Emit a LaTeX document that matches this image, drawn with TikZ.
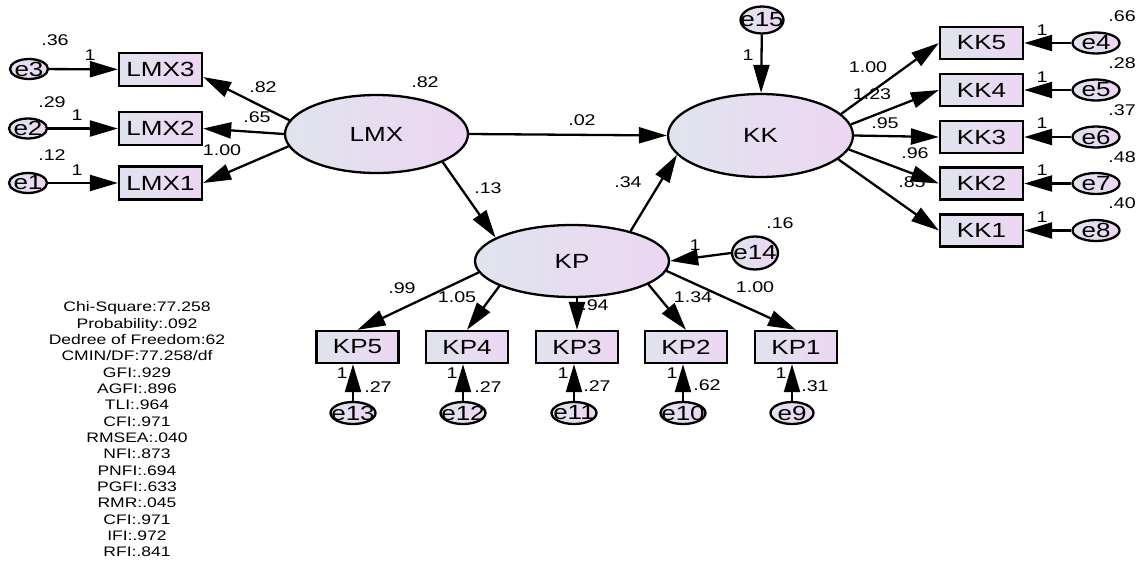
\documentclass[tikz,border=0pt]{standalone}
\usepackage{fontspec}
\setmainfont{Liberation Sans}[FakeStretch=1.27]
\usetikzlibrary{arrows.meta,shapes.geometric}
\definecolor{fillL}{RGB}{224,228,238}
\definecolor{fillR}{RGB}{236,214,242}
\tikzset{
 obs/.style={draw, line width=2.3pt, rectangle, left color=fillL, right color=fillR,
   minimum width=83pt, minimum height=33pt, inner sep=0pt, font=\fontsize{20.5}{24}\selectfont},
 lat/.style={draw, line width=2.3pt, ellipse, left color=fillL, right color=fillR,
   inner sep=0pt, font=\fontsize{20.5}{24}\selectfont},
 err/.style={draw, line width=2.3pt, ellipse, left color=fillL, right color=fillR, inner sep=0pt},
 elab/.style={font=\fontsize{20.5}{22}\selectfont, inner sep=0pt},
 num/.style={font=\fontsize{15.5}{18}\selectfont, inner sep=0pt},
 arr/.style={line width=2.3pt, -{Triangle[length=28pt,width=16pt]}},
}
\begin{document}
\begin{tikzpicture}[x=1pt,y=-1pt]
\useasboundingbox (0,0) rectangle (1142,560);
% latent variables
\node[lat, minimum width=183pt, minimum height=78pt] (LMX) at (376.5,134) {LMX};
\node[lat, minimum width=185pt, minimum height=83pt] (KK) at (760.5,135.5) {KK};
\node[lat, minimum width=194pt, minimum height=72pt] (KP) at (572,261) {KP};
% LMX indicators
\node[obs] (LMX3) at (160.5,69.5) {LMX3};
\node[obs] (LMX2) at (160.5,128.5) {LMX2};
\node[obs] (LMX1) at (160.5,183) {LMX1};
\node[err, minimum width=38pt, minimum height=20pt, label={[elab]center:e3}] (e3) at (29,69) {};
\node[err, minimum width=38pt, minimum height=20pt, label={[elab]center:e2}] (e2) at (28,128.5) {};
\node[err, minimum width=38pt, minimum height=20pt, label={[elab]center:e1}] (e1) at (28,183) {};
% KK indicators
\node[obs, minimum height=32pt] (KK5) at (981.5,43) {KK5};
\node[obs, minimum height=32pt] (KK4) at (981.5,90) {KK4};
\node[obs, minimum height=32pt] (KK3) at (981.5,137) {KK3};
\node[obs, minimum height=32pt] (KK2) at (981.5,183.5) {KK2};
\node[obs, minimum height=32pt] (KK1) at (981.5,230.5) {KK1};
\node[err, minimum width=47pt, minimum height=21pt, label={[elab]center:e4}] (e4) at (1096,43) {};
\node[err, minimum width=47pt, minimum height=21pt, label={[elab]center:e5}] (e5) at (1096,90) {};
\node[err, minimum width=47pt, minimum height=21pt, label={[elab]center:e6}] (e6) at (1096,137) {};
\node[err, minimum width=47pt, minimum height=21pt, label={[elab]center:e7}] (e7) at (1096,183.5) {};
\node[err, minimum width=47pt, minimum height=21pt, label={[elab]center:e8}] (e8) at (1096,230.5) {};
\node[err, minimum width=43pt, minimum height=27pt, label={[elab]center:e15}] (e15) at (762,20) {};
% KP indicators
\node[obs, minimum width=82pt, minimum height=32pt] (KP5) at (357.5,347) {KP5};
\node[obs, minimum width=82pt, minimum height=32pt] (KP4) at (467,347) {KP4};
\node[obs, minimum width=82pt, minimum height=32pt] (KP3) at (577,347) {KP3};
\node[obs, minimum width=82pt, minimum height=32pt] (KP2) at (686,347) {KP2};
\node[obs, minimum width=82pt, minimum height=32pt] (KP1) at (796,347) {KP1};
\node[err, minimum width=45pt, minimum height=22pt, label={[elab]center:e13}] (e13) at (353,413) {};
\node[err, minimum width=45pt, minimum height=22pt, label={[elab]center:e12}] (e12) at (463,413) {};
\node[err, minimum width=45pt, minimum height=22pt, label={[elab]center:e11}] (e11) at (574,413) {};
\node[err, minimum width=45pt, minimum height=22pt, label={[elab]center:e10}] (e10) at (683,413) {};
\node[err, minimum width=43pt, minimum height=22pt, label={[elab]center:e9}] (e9) at (792,413) {};
\node[err, minimum width=46pt, minimum height=33pt, label={[elab]center:e14}] (e14) at (755,253) {};
% connectors
\draw[arr] (e3) -- (LMX3);
\draw[arr] (e2) -- (LMX2);
\draw[arr] (e1) -- (LMX1);
\draw[arr] (LMX.171) -- (LMX3.-10);
\draw[arr] (LMX.west) -- (LMX2.east);
\draw[arr] (LMX.188) -- (LMX1.east);
\draw[arr] (LMX.east) -- (KK.west);
\draw[arr] (LMX.-23) -- (KP.163);
\draw[arr] (KP.27) -- (KK.193);
\draw[arr] (e15) -- (KK);
\draw[arr] (KK.15) -- (KK5.west);
\draw[arr] (KK.7) -- (KK4.west);
\draw[arr] (KK.east) -- (KK3.west);
\draw[arr] (KK.-9) -- (KK2.west);
\draw[arr] (KK.-17) -- (KK1.west);
\draw[arr] (e4) -- (KK5);
\draw[arr] (e5) -- (KK4);
\draw[arr] (e6) -- (KK3);
\draw[arr] (e7) -- (KK2);
\draw[arr] (e8) -- (KK1);
\draw[arr] (e14.west) -- (KP.east);
\draw[arr] (KP.187) -- (KP5.north);
\draw[arr] (KP.199) -- (KP4.north);
\draw[arr] (KP.south -| KP3.north) -- (KP3.north);
\draw[arr] (KP.-17) -- (KP2.north);
\draw[arr] (KP.-6.5) -- (KP1.north);
\draw[arr] (e13.north) -- (e13.north |- KP5.south);
\draw[arr] (e12.north) -- (e12.north |- KP4.south);
\draw[arr] (e11.north) -- (e11.north |- KP3.south);
\draw[arr] (e10.north) -- (e10.north |- KP2.south);
\draw[arr] (e9.north) -- (e9.north |- KP1.south);
% labels
\node[num] (n1) at (55,40) {.36};
\node[num] (n2) at (90,55) {1};
\node[num] (n3) at (52,102) {.29};
\node[num] (n4) at (77,115) {1};
\node[num] (n5) at (52,155) {.12};
\node[num] (n6) at (77,170) {1};
\node[num] (n7) at (263,87) {.82};
\node[num] (n8) at (257,117) {.65};
\node[num] (n9) at (222,150) {1.00};
\node[num] (n10) at (425,82) {.82};
\node[num] (n11) at (582,120) {.02};
\node[num] (n12) at (488,188) {.13};
\node[num] (n13) at (628,182) {.34};
\node[num] (n14) at (748,55) {1};
\node[num] (n15) at (868,67) {1.00};
\node[num] (n16) at (872,94) {1.23};
\node[num] (n17) at (885,123) {.95};
\node[num] (n18) at (915,153) {.96};
\node[num] (n19) at (912,182) {.85};
\node[num] (n20) at (1042,30) {1};
\node[num] (n21) at (1042,77) {1};
\node[num] (n22) at (1042,123) {1};
\node[num] (n23) at (1042,170) {1};
\node[num] (n24) at (1042,217) {1};
\node[num] (n25) at (1122,16) {.66};
\node[num] (n26) at (1122,63) {.28};
\node[num] (n27) at (1122,110) {.37};
\node[num] (n28) at (1122,157) {.48};
\node[num] (n29) at (1122,203) {.40};
\node[num] (n30) at (780,223) {.16};
\node[num] (n31) at (695,245) {1};
\node[num] (n32) at (402,288) {.99};
\node[num] (n33) at (457,297) {1.05};
\node[num] (n34) at (595,305) {.94};
\node[num] (n35) at (693,297) {1.34};
\node[num] (n36) at (755,287) {1.00};
\node[num] (n37) at (342,373) {1};
\node[num] (n38) at (452,373) {1};
\node[num] (n39) at (563,373) {1};
\node[num] (n40) at (672,373) {1};
\node[num] (n41) at (781,373) {1};
\node[num] (n42) at (378,387) {.27};
\node[num] (n43) at (488,387) {.27};
\node[num] (n44) at (597,386) {.27};
\node[num] (n45) at (707,385) {.62};
\node[num] (n46) at (815,386) {.31};
% fit statistics
\node[align=center, inner sep=0pt, font=\fontsize{13.8}{16.33}\selectfont] (fit) at (137,429.5)
 {Chi-Square:77.258\\Probability:.092\\Dedree of Freedom:62\\CMIN/DF:77.258/df\\GFI:.929\\AGFI:.896\\TLI:.964\\CFI:.971\\RMSEA:.040\\NFI:.873\\PNFI:.694\\PGFI:.633\\RMR:.045\\CFI:.971\\IFI:.972\\RFI:.841};
\end{tikzpicture}
\end{document}
